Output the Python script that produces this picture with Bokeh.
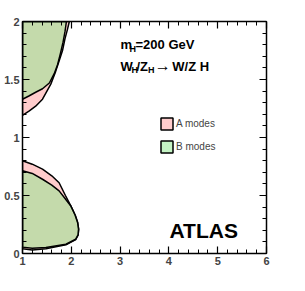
from bokeh.plotting import figure
from bokeh.models import (ColumnDataSource, Range1d, LinearAxis, SingleIntervalTicker,
                          Label, Legend, LegendItem)
from bokeh.embed import file_html
from bokeh.resources import INLINE
import math

# ---- data ----
a_upper_m = [1.0, 1.14, 1.27, 1.41, 1.58, 1.68, 1.75, 1.82, 1.87, 1.92, 1.96, 1.0]
a_upper_c = [1.19, 1.23, 1.27, 1.33, 1.46, 1.57, 1.66, 1.75, 1.85, 1.93, 2.0, 2.0]
b_upper_m = [1.0, 1.14, 1.27, 1.41, 1.55, 1.65, 1.72, 1.78, 1.83, 1.87, 1.90, 1.0]
b_upper_c = [1.33, 1.36, 1.39, 1.42, 1.47, 1.55, 1.63, 1.73, 1.82, 1.91, 2.0, 2.0]

a_lower_m = [1.0, 1.2, 1.41, 1.6, 1.75, 1.88, 1.99, 2.08, 2.13, 2.15, 2.14, 2.09, 1.89, 1.48, 1.2, 1.0]
a_lower_c = [0.80, 0.77, 0.727, 0.67, 0.61, 0.50, 0.41, 0.33, 0.267, 0.21, 0.16, 0.12, 0.075, 0.04, 0.03, 0.04]
b_lower_m = [1.0, 1.2, 1.41, 1.6, 1.75, 1.88, 1.99, 2.08, 2.13, 2.15, 2.14, 2.09, 1.89, 1.48, 1.2, 1.0]
b_lower_c = [0.713, 0.69, 0.64, 0.59, 0.54, 0.47, 0.41, 0.33, 0.267, 0.21, 0.16, 0.123, 0.08, 0.052, 0.045, 0.055]

x_ticks = [1, 2, 3, 4, 5, 6]
x_tick_labels = ["1", "2", "3", "4", "5", "6"]
y_ticks = [0, 0.5, 1, 1.5, 2]
y_tick_labels = ["0", "0.5", "1", "1.5", "2"]

legend_labels = ["A modes", "B modes"]

FONT = "Liberation Sans"

p = figure(frame_width=244, frame_height=232, output_backend="svg", toolbar_location=None,
           x_range=Range1d(1, 6), y_range=Range1d(0, 2),
           min_border_left=22, min_border_top=21, min_border_right=10, min_border_bottom=28,
           x_axis_location=None, y_axis_location=None)
p.xgrid.grid_line_color = None
p.ygrid.grid_line_color = None
p.outline_line_color = None

def style_axis(ax, labels):
    ax.axis_line_color = "black"
    ax.axis_line_width = 1.5
    ax.major_tick_in = 7
    ax.major_tick_out = 0
    ax.minor_tick_in = 4
    ax.minor_tick_out = 0
    ax.major_tick_line_color = "black"
    ax.minor_tick_line_color = "black"
    ax.major_tick_line_width = 1.2
    ax.minor_tick_line_width = 1
    ax.major_label_text_font = FONT
    ax.major_label_text_font_style = "bold"
    ax.major_label_text_font_size = "11px"
    ax.major_label_standoff = 3 if labels else 0

xb = LinearAxis(ticker=SingleIntervalTicker(interval=1, num_minor_ticks=5),
                major_label_overrides={t: l for t, l in zip(x_ticks, x_tick_labels)})
style_axis(xb, True)
p.add_layout(xb, "below")
xa = LinearAxis(ticker=SingleIntervalTicker(interval=1, num_minor_ticks=5),
                major_label_overrides={t: "" for t in x_ticks})
style_axis(xa, False)
p.add_layout(xa, "above")
yl = LinearAxis(ticker=SingleIntervalTicker(interval=0.5, num_minor_ticks=5),
                major_label_overrides={t: l for t, l in zip(y_ticks, y_tick_labels)})
style_axis(yl, True)
p.add_layout(yl, "left")
yr = LinearAxis(ticker=SingleIntervalTicker(interval=0.5, num_minor_ticks=5),
                major_label_overrides={t: "" for t in y_ticks})
style_axis(yr, False)
p.add_layout(yr, "right")

def region(m, c, color, alpha):
    src = ColumnDataSource(dict(x=m, y=c))
    return p.patch("x", "y", source=src, fill_color=color, fill_alpha=alpha,
                   line_color="black", line_width=1.5)

ra1 = region(a_upper_m, a_upper_c, "#ff9a9a", 0.5)
ra2 = region(a_lower_m, a_lower_c, "#ff9a9a", 0.5)
rb1 = region(b_upper_m, b_upper_c, "#8ae88a", 0.5)
rb2 = region(b_lower_m, b_lower_c, "#8ae88a", 0.5)

legend = Legend(items=[LegendItem(label=legend_labels[0], renderers=[ra1]),
                       LegendItem(label=legend_labels[1], renderers=[rb1])],
                location=(137, 99), padding=0, margin=0, spacing=8,
                glyph_width=15, glyph_height=15, label_standoff=2,
                label_text_font=FONT, label_text_font_size="10px",
                label_height=15,
                border_line_color=None, background_fill_alpha=0)
p.add_layout(legend, "center")

def lab(x, y, text, size, style="bold", align="left", baseline="alphabetic", angle=0):
    p.add_layout(Label(x=x, y=y, text=text, text_font=FONT, text_font_size=size,
                       text_font_style=style, text_align=align, text_baseline=baseline,
                       angle=angle, text_color="black"))

# annotation text
lab(3.008, 1.802, "m", "13px")
lab(3.193, 1.767, "H", "9px")
lab(3.316, 1.802, "=200 GeV", "13px")
lab(3.008, 1.612, "W", "13px")
lab(3.234, 1.578, "H", "9px")
lab(3.336, 1.612, "/Z", "13px")
lab(3.57, 1.578, "H", "9px")
lab(3.71, 1.618, "\u2192", "16px", style="normal")
lab(4.07, 1.612, "W/Z H", "13px")
lab(4.012, 0.198, "ATLAS", "21px")

# axis titles
lab(0.745, 2.009, "cot \u03b8", "10px", align="right", angle=math.pi / 2)
lab(6.0, -0.19, "M(TeV)", "10px", align="right")

open("out.html", "w").write(file_html(p, INLINE))
